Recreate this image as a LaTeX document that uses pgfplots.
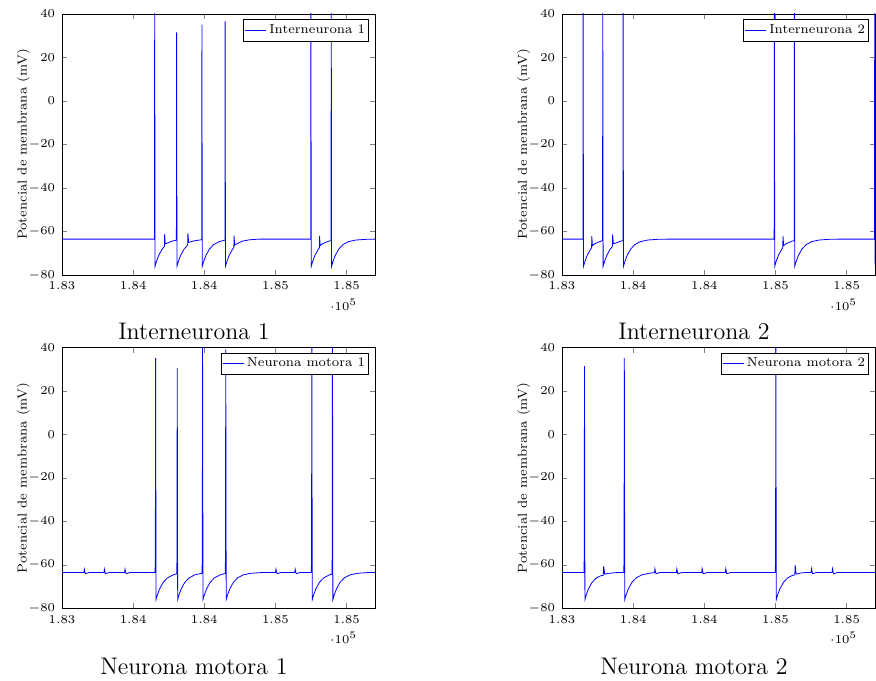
\documentclass[border=0pt]{standalone}
\usepackage{pgfplots}
\pgfplotsset{compat=1.18}
\pgfplotsset{
  neuro/.style={
    scale only axis,
    width=156.5pt, height=130.5pt,
    anchor=north west,
    xmin=183000, xmax=185200,
    ymin=-80, ymax=40,
    xtick={183000,183500,184000,184500,185000},
    ytick={-80,-60,-40,-20,0,20,40},
    scaled x ticks=base 10:-5,
    xticklabel style={/pgf/number format/fixed,/pgf/number format/precision=2,/pgf/number format/fixed zerofill},
    every x tick scale label/.style={at={(xticklabel cs:0.9,0.9pt)},anchor=near xticklabel,inner sep=0pt},
    font=\fontsize{6.5}{7.8}\selectfont,
    ylabel={Potencial de membrana (mV)},
    ylabel shift=-7.5pt,
    tick align=inside,
    major tick length=2.6pt,
    legend style={font=\fontsize{6.5}{7.8}\selectfont, at={(0.98,0.98)}, anchor=north east, inner xsep=0.5pt, inner ysep=1pt, row sep=0pt, nodes={inner xsep=1.2pt, inner ysep=1.5pt}},
    legend image code/.code={\draw[blue, line width=0.55pt] (0pt,0pt) -- (10.5pt,0pt);},
    cycle list={{blue, no markers, line width=0.55pt, line join=round}},
  }
}
\begin{document}
\begin{tikzpicture}
\path[use as bounding box] (0pt,0pt) rectangle (438pt,-340pt);

% Interneurona 1
\begin{axis}[neuro, at={(31pt,-7pt)}]
\addplot coordinates {
(183000,-63.5) (183650,-63.5) (183651.5,50) (183654,-76)
(183664,-73.74) (183679,-71.09) (183704,-68.10)
(183720,-66.84) (183721,-61.3) (183726,-65.6) (183734,-65.5) (183774,-64.4)
(183804,-64.0) (183805.5,31.6) (183808,-76)
(183818,-73.74) (183833,-71.09) (183858,-68.10)
(183884,-66.2) (183885,-60.7) (183890,-65.0) (183928,-64.3) (183978,-63.8)
(183982,-63.8) (183983.5,35.1) (183986,-76)
(183996,-73.74) (184011,-71.09) (184036,-68.10) (184066,-66.02) (184106,-64.63)
(184145,-64.0) (184146.5,36.6) (184149,-76)
(184159,-73.74) (184174,-71.09) (184199,-68.10)
(184208,-67.3) (184209,-61.8) (184214,-66.3) (184229,-65.6) (184269,-64.4) (184319,-63.8) (184389,-63.5)
(184748,-63.5) (184749.5,50) (184752,-76)
(184762,-73.74) (184777,-71.09) (184802,-68.10)
(184809,-67.5) (184810,-62) (184815,-66.5) (184832,-65.6) (184872,-64.5)
(184891,-64.2) (184892.5,50) (184895,-76)
(184905,-73.74) (184920,-71.09) (184945,-68.10) (184975,-66.02) (185015,-64.63) (185065,-63.92) (185135,-63.6) (185200,-63.5)
};
\addlegendentry{Interneurona 1}
\end{axis}

% Interneurona 2
\begin{axis}[neuro, at={(281pt,-7pt)}]
\addplot coordinates {
(183000,-63.5) (183147,-63.5) (183148.5,50) (183151,-76)
(183161,-73.74) (183176,-71.09) (183201,-68.10)
(183208,-67.5) (183209,-62) (183214,-66.5) (183231,-65.6) (183271,-64.5)
(183285,-64.2) (183286.5,50) (183289,-76)
(183299,-73.74) (183314,-71.09) (183339,-68.10)
(183355,-66.8) (183356,-61.3) (183361,-65.6) (183379,-65.3) (183409,-64.5)
(183428,-64.2) (183429.5,50) (183432,-76)
(183442,-73.74) (183457,-71.09) (183482,-68.10) (183512,-66.02) (183552,-64.63) (183602,-63.92) (183672,-63.6) (183750,-63.5)
(184491,-63.5) (184492.5,50) (184495,-76)
(184505,-73.74) (184520,-71.09) (184545,-68.10)
(184552,-67.5) (184553,-62) (184558,-66.5) (184575,-65.6) (184615,-64.5)
(184632,-64.2) (184633.5,50) (184636,-76)
(184646,-73.74) (184661,-71.09) (184686,-68.10) (184716,-66.02) (184756,-64.63) (184806,-63.92) (184876,-63.6) (184950,-63.5)
(185196,-63.5) (185198,50) (185201,-76)
};
\addlegendentry{Interneurona 2}
\end{axis}

% Neurona motora 1
\begin{axis}[neuro, at={(31pt,-173.65pt)}]
\addplot coordinates {
(183000,-63.5)
(183154,-63.5) (183157,-62) (183164,-64.1) (183194,-63.5)
(183295,-63.5) (183298,-62) (183305,-64.1) (183335,-63.5)
(183440,-63.5) (183443,-62) (183450,-64.1) (183480,-63.5)
(183654,-63.5) (183656,-57) (183658,35) (183661,-76)
(183671,-73.74) (183686,-71.09) (183711,-68.10) (183741,-66.02) (183781,-64.63)
(183806,-64.1) (183808,-58) (183810,30.4) (183813,-76)
(183823,-73.74) (183838,-71.09) (183863,-68.10) (183893,-66.02) (183933,-64.63)
(183984,-63.9) (183986,-57) (183988,42) (183991,-76)
(184001,-73.74) (184016,-71.09) (184041,-68.10) (184071,-66.02) (184111,-64.63)
(184147,-64.0) (184149,-57) (184151,39) (184154,-76)
(184164,-73.74) (184179,-71.09) (184204,-68.10) (184234,-66.02) (184274,-64.63) (184324,-63.92) (184394,-63.6) (184440,-63.5)
(184501,-63.5) (184504,-62) (184511,-64.1) (184541,-63.5)
(184636,-63.5) (184639,-62) (184646,-64.1) (184676,-63.5)
(184752,-63.5) (184754,-57) (184756,50) (184759,-76)
(184769,-73.74) (184784,-71.09) (184809,-68.10) (184839,-66.02) (184879,-64.63)
(184897,-64.3) (184899,-57) (184901,50) (184904,-76)
(184914,-73.74) (184929,-71.09) (184954,-68.10) (184984,-66.02) (185024,-64.63) (185074,-63.92) (185144,-63.6) (185200,-63.5)
};
\addlegendentry{Neurona motora 1}
\end{axis}

% Neurona motora 2
\begin{axis}[neuro, at={(281pt,-173.65pt)}]
\addplot coordinates {
(183000,-63.5)
(183154,-63.5) (183156,-57) (183158,31.4) (183161,-76)
(183171,-73.74) (183186,-71.09) (183211,-68.10) (183241,-66.02) (183270,-65.1)
(183290,-64.8) (183293,-60.6) (183300,-64.3) (183330,-63.9) (183380,-63.6)
(183434,-63.5) (183436,-57) (183438,35) (183441,-76)
(183451,-73.74) (183466,-71.09) (183491,-68.10) (183521,-66.02) (183561,-64.63) (183611,-63.92)
(183650,-63.6) (183653,-61.8) (183660,-64.1) (183690,-63.5)
(183804,-63.5) (183807,-61.8) (183814,-64.1) (183844,-63.5)
(183982,-63.5) (183985,-61.8) (183992,-64.1) (184022,-63.5)
(184148,-63.5) (184151,-61.8) (184158,-64.1) (184188,-63.5)
(184499,-63.5) (184501,-57) (184503,50) (184506,-76)
(184516,-73.74) (184531,-71.09) (184556,-68.10) (184586,-66.02) (184615,-65.0)
(184636,-64.6) (184639,-60.2) (184646,-64.3) (184676,-63.8) (184720,-63.5)
(184751,-63.5) (184754,-61.8) (184761,-64.1) (184791,-63.5)
(184898,-63.5) (184901,-61.8) (184908,-64.1) (184938,-63.5)
(185200,-63.5)
};
\addlegendentry{Neurona motora 2}
\end{axis}

\node[anchor=base, font=\fontsize{12}{14}\selectfont] at (97pt,-169.5pt) {Interneurona 1};
\node[anchor=base, font=\fontsize{12}{14}\selectfont] at (347pt,-169.5pt) {Interneurona 2};
\node[anchor=base, font=\fontsize{12}{14}\selectfont] at (97pt,-337pt) {Neurona motora 1};
\node[anchor=base, font=\fontsize{12}{14}\selectfont] at (347pt,-337pt) {Neurona motora 2};
\end{tikzpicture}
\end{document}
